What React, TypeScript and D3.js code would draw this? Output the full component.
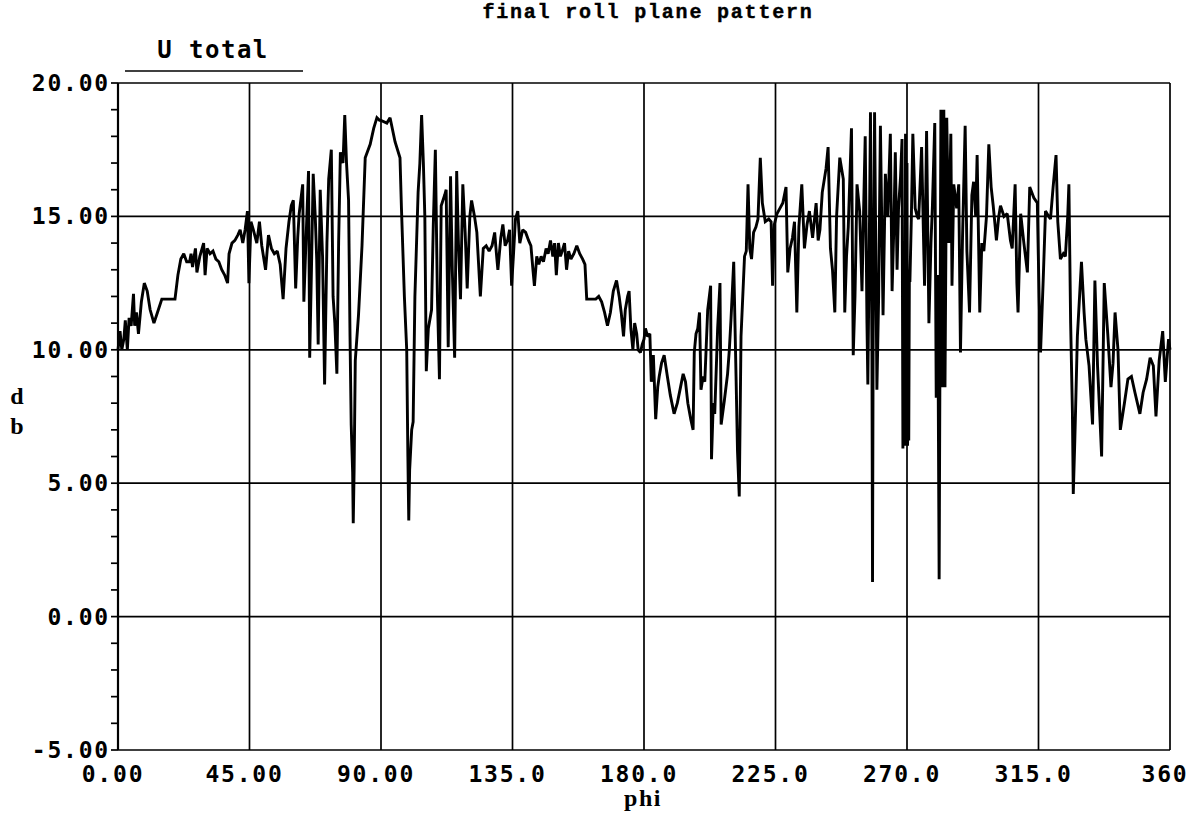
import React from "react";
import * as d3 from "d3";

// phi (deg), level (dB), in four segments
const seg0to90: [number, number][] = [
  [0, 10.0], [0.7, 10.7], [1.3, 10.0], [2.0, 10.4], [2.5, 11.1], [3.2, 10.0], [3.8, 11.2], [4.5, 10.9],
  [5.3, 12.1], [5.7, 10.9], [6.3, 11.4], [7.0, 10.6], [8.0, 11.8], [9.0, 12.5], [10.0, 12.2], [11.0, 11.5],
  [12.3, 11.0], [13.5, 11.4], [15.0, 11.9], [17.0, 11.9], [19.5, 11.9], [20.5, 12.8], [21.5, 13.4], [22.5, 13.6],
  [23.5, 13.3], [24.5, 13.3], [25.0, 13.6], [25.5, 13.1], [26.5, 13.8], [27.0, 12.9], [28.0, 13.5], [29.3, 14.0],
  [29.8, 12.8], [30.5, 13.8], [31.5, 13.6], [32.5, 13.7], [33.5, 13.4], [34.5, 13.3], [35.5, 13.0], [36.5, 12.8],
  [37.5, 12.5], [38.0, 13.6], [39.0, 14.0], [40.0, 14.1], [41.0, 14.3], [41.8, 14.5], [42.7, 14.0], [43.5, 14.5],
  [44.3, 15.2], [44.8, 12.5], [45.5, 14.8], [46.3, 14.5], [47.5, 14.0], [48.4, 14.8], [49.2, 13.9], [50.5, 13.0],
  [51.5, 14.3], [52.5, 13.8], [53.5, 13.6], [54.5, 13.7], [55.5, 13.2], [56.5, 11.9], [57.5, 13.8], [58.5, 14.8],
  [59.3, 15.4], [60.0, 15.6], [60.8, 12.3], [61.5, 14.2], [62.0, 15.1], [63.2, 16.2], [63.6, 11.8], [64.3, 14.0],
  [65.2, 16.7], [65.6, 9.7], [66.2, 13.0], [66.8, 16.6], [67.5, 15.0], [68.0, 13.4], [68.5, 10.2], [69.2, 16.0],
  [70.0, 13.5], [70.7, 8.7], [71.5, 14.0], [72.1, 16.4], [73.0, 17.5], [73.6, 12.0], [74.2, 11.0], [74.9, 9.1],
  [75.5, 14.0], [76.1, 17.4], [77.0, 17.0], [77.6, 18.8], [78.2, 17.0], [78.9, 15.6], [79.4, 10.5], [79.8, 7.2],
  [80.3, 5.4], [80.5, 3.5], [80.8, 5.5], [81.2, 9.6], [82.3, 11.3], [83.5, 13.9], [84.6, 17.2], [86.3, 17.7],
  [87.5, 18.3], [88.6, 18.7], [89.5, 18.6],
];

const seg90to180: [number, number][] = [
  [90.0, 18.6], [92.0, 18.5], [93.1, 18.7], [94.8, 17.8], [96.5, 17.2], [97.0, 15.3], [98.0, 12.0], [98.8, 10.0],
  [99.2, 6.0], [99.5, 3.6], [99.8, 5.5], [100.5, 7.0], [101.0, 7.3], [101.6, 12.0], [102.7, 15.9], [103.3, 17.0],
  [103.9, 18.8], [104.5, 17.0], [105.0, 15.0], [105.5, 9.2], [106.2, 10.8], [107.3, 11.5], [107.9, 14.7], [108.6, 17.5],
  [109.3, 12.0], [110.0, 8.9], [110.6, 15.4], [111.8, 15.8], [112.3, 16.0], [113.0, 10.1], [113.8, 16.5], [114.4, 13.0],
  [115.2, 9.7], [115.9, 16.7], [116.5, 14.0], [117.2, 11.9], [118.0, 16.2], [118.8, 14.4], [119.5, 12.3], [120.4, 15.0],
  [121.0, 15.6], [122.0, 15.0], [122.8, 14.4], [124.0, 12.0], [125.0, 13.8], [126.0, 13.9], [127.0, 13.7], [128.0, 13.9],
  [128.9, 14.4], [129.5, 13.6], [130.0, 13.0], [131.0, 14.2], [131.7, 14.7], [132.5, 13.9], [133.3, 14.1], [134.0, 14.5],
  [134.7, 12.4], [135.3, 13.5], [136.0, 14.9], [136.8, 15.2], [137.5, 14.0], [138.5, 14.5], [139.5, 14.4], [140.5, 14.1],
  [141.3, 13.9], [142.0, 13.0], [142.5, 12.4], [143.3, 13.5], [144.0, 13.2], [144.8, 13.5], [145.6, 13.3], [146.5, 13.8],
  [147.2, 13.6], [148.0, 14.1], [148.8, 13.5], [149.4, 14.0], [150.0, 12.8], [150.7, 14.0], [151.4, 13.5], [152.0, 13.7],
  [152.8, 14.0], [153.5, 13.0], [154.2, 13.7], [155.0, 13.4], [156.0, 13.6], [157.0, 13.9], [158.0, 13.6], [159.0, 13.4],
  [159.8, 13.2], [160.4, 11.9], [162.0, 11.9], [163.5, 11.9], [164.5, 12.0], [165.5, 11.8], [166.5, 11.4], [167.5, 10.9],
  [168.5, 11.4], [169.5, 12.2], [170.6, 12.6], [171.5, 12.0], [172.2, 11.4], [173.0, 10.5], [173.6, 11.5], [174.4, 12.0],
  [174.9, 12.2], [175.5, 10.8], [176.2, 10.0], [176.8, 11.0], [177.5, 10.6], [178.0, 10.0], [178.8, 9.9], [179.4, 10.2],
];

const seg180to270: [number, number][] = [
  [180.0, 10.4], [180.5, 10.8], [181.2, 10.5], [182.0, 10.6], [182.5, 8.8], [183.2, 9.8], [184.0, 7.4], [184.7, 8.6],
  [185.2, 9.0], [186.0, 9.5], [186.9, 9.8], [188.0, 9.0], [189.0, 8.3], [190.3, 7.6], [191.4, 8.0], [192.5, 8.6],
  [193.4, 9.1], [194.2, 8.8], [195.0, 8.0], [196.0, 7.4], [196.8, 7.0], [197.2, 9.9], [197.8, 10.6], [198.4, 10.8],
  [199.0, 11.4], [199.5, 8.5], [200.2, 9.0], [200.8, 8.8], [201.8, 11.5], [202.8, 12.4], [203.1, 5.9], [203.7, 8.0],
  [204.2, 7.6], [205.2, 10.8], [206.0, 12.5], [206.4, 7.2], [207.5, 8.1], [208.6, 9.1], [209.2, 10.0], [209.8, 11.2],
  [210.7, 13.3], [211.5, 9.0], [212.0, 6.2], [212.6, 4.5], [213.2, 10.5], [214.4, 13.5], [215.0, 13.7], [215.6, 16.2],
  [216.2, 13.8], [216.8, 13.4], [217.5, 14.4], [218.3, 14.6], [219.0, 14.9], [219.8, 17.2], [220.5, 15.5], [221.5, 14.8],
  [222.7, 14.9], [223.5, 14.8], [224.0, 12.4], [224.6, 14.7], [225.5, 15.1], [226.5, 15.3], [227.5, 15.5], [228.6, 16.1],
  [229.2, 12.9], [230.0, 13.8], [230.8, 14.2], [231.5, 14.8], [232.3, 11.4], [233.0, 14.6], [234.0, 16.2], [234.9, 13.8],
  [235.8, 14.7], [236.6, 15.2], [237.7, 14.2], [238.9, 15.5], [239.6, 14.1], [240.2, 14.5], [241.0, 15.9], [242.3, 16.8],
  [243.0, 17.6], [243.8, 13.8], [244.5, 13.0], [245.3, 11.4], [245.9, 15.0], [247.0, 17.2], [248.2, 16.4], [248.7, 11.4],
  [249.3, 13.5], [249.9, 14.6], [251.0, 18.3], [251.6, 9.8], [252.2, 12.0], [252.9, 16.2], [253.8, 15.2], [254.6, 12.2],
  [255.2, 15.5], [255.7, 18.0], [256.3, 11.0], [256.6, 8.7], [257.1, 14.0], [257.5, 18.9], [258.0, 10.0], [258.2, 1.3],
  [258.4, 10.0], [258.9, 18.9], [259.3, 14.0], [259.7, 8.5], [260.3, 12.0], [260.9, 18.4], [261.8, 11.3], [262.6, 16.6],
  [263.4, 15.0], [264.3, 18.1], [264.9, 12.2], [265.5, 14.6], [266.0, 17.4], [266.6, 13.0], [267.1, 15.3], [267.8, 16.5],
  [268.3, 17.9], [268.6, 6.3], [268.9, 13.0], [269.2, 6.4], [269.5, 18.1], [269.8, 6.5],
];

const seg270to360: [number, number][] = [
  [270.0, 17.0], [270.2, 6.4], [270.4, 13.0], [270.6, 6.6], [270.8, 12.6], [271.0, 12.6], [271.5, 15.0], [272.0, 18.1],
  [272.8, 15.3], [273.5, 15.0], [274.0, 14.9], [275.0, 17.6], [276.0, 12.4], [276.7, 18.2], [277.5, 11.0], [278.2, 14.0],
  [278.7, 15.4], [279.5, 18.5], [280.0, 8.2], [280.5, 12.8], [281.0, 1.4], [281.6, 19.0], [282.0, 8.6], [282.6, 19.0],
  [283.0, 8.6], [283.6, 18.7], [284.3, 14.0], [285.0, 18.1], [285.4, 12.4], [286.0, 16.2], [287.0, 15.3], [287.7, 16.2],
  [288.3, 9.9], [289.0, 14.2], [289.9, 18.4], [290.5, 13.7], [291.4, 11.4], [292.2, 15.8], [292.8, 16.3], [293.5, 15.0],
  [294.0, 17.3], [294.9, 11.4], [295.6, 14.0], [296.3, 13.7], [297.2, 15.0], [298.0, 17.7], [298.8, 16.1], [299.5, 15.4],
  [300.2, 14.6], [300.6, 14.1], [301.4, 15.0], [302.0, 15.4], [303.2, 15.0], [304.3, 15.1], [305.4, 14.1], [306.0, 13.8],
  [307.0, 16.2], [307.6, 12.5], [308.0, 11.4], [308.9, 15.1], [310.0, 14.0], [311.2, 12.9], [312.0, 16.1], [313.4, 15.7],
  [314.6, 15.5], [315.2, 12.0], [315.7, 9.9], [316.6, 12.6], [317.4, 15.2], [318.5, 15.0], [319.1, 14.9], [320.0, 16.1],
  [321.0, 17.3], [321.6, 14.8], [322.5, 13.4], [323.5, 13.6], [324.2, 13.5], [325.0, 15.0], [325.4, 16.2], [326.0, 11.0],
  [326.6, 7.7], [326.9, 4.6], [327.4, 6.5], [327.7, 7.8], [328.3, 10.5], [329.7, 13.3], [330.6, 11.4], [331.2, 10.4],
  [332.3, 9.4], [333.5, 7.2], [334.3, 12.6], [335.2, 9.4], [336.0, 7.5], [336.6, 6.0], [337.5, 12.5], [338.7, 10.6],
  [339.8, 8.6], [340.5, 9.5], [341.2, 11.4], [342.2, 10.0], [343.0, 7.0], [344.4, 8.0], [345.6, 8.9], [346.8, 9.0],
  [348.0, 8.4], [349.7, 7.6], [350.8, 8.4], [352.0, 8.9], [353.2, 9.7], [354.3, 9.4], [355.2, 7.5], [356.3, 9.6],
  [357.5, 10.7], [358.4, 8.8], [359.5, 10.4], [360.0, 10.0],
];

const xTicks = [0, 45, 90, 135, 180, 225, 270, 315, 360];
const xTickLabels = ["0.00", "45.00", "90.00", "135.0", "180.0", "225.0", "270.0", "315.0", "360"];
const yTicks = [-5, 0, 5, 10, 15, 20];
const yTickLabels = ["-5.00", "0.00", "5.00", "10.00", "15.00", "20.00"];
const yMinorTicks = d3.range(-5, 20.001, 1);

const title = "final roll plane pattern";
const legendLabel = "U total";
const xTitle = "phi";
const yTitle = ["d", "b"];

const W = 1188;
const H = 829;
const L = 118, R = 1170, T = 83, B = 750;

export default function App() {
  const data = [...seg0to90, ...seg90to180, ...seg180to270, ...seg270to360];
  const x = d3.scaleLinear().domain([0, 360]).range([L, R]);
  const y = d3.scaleLinear().domain([-5, 20]).range([B, T]);
  const line = d3.line<[number, number]>().x((d) => x(d[0])).y((d) => y(d[1]));
  const monoFont = "'DejaVu Sans Mono', monospace";
  const courier = "'Liberation Mono', monospace";
  const serif = "'Liberation Serif', serif";

  return (
    <svg width={W} height={H} style={{ position: "absolute", left: 0, top: 0, background: "#fff" }}>
      <rect x={0} y={0} width={W} height={H} fill="#fff" />
      {/* grid */}
      {yTicks.map((t) => (
        <line key={"gy" + t} x1={L} x2={R} y1={y(t)} y2={y(t)} stroke="#000" strokeWidth={1.7} />
      ))}
      {xTicks.map((t) => (
        <line key={"gx" + t} x1={x(t)} x2={x(t)} y1={T} y2={B} stroke="#000" strokeWidth={1.7} />
      ))}
      {/* minor ticks */}
      {yMinorTicks.map((t) => (
        <line key={"my" + t} x1={L - 7} x2={L} y1={y(t)} y2={y(t)} stroke="#000" strokeWidth={1.7} />
      ))}
      <line x1={L} x2={L} y1={T} y2={B} stroke="#000" strokeWidth={2.2} />
      {/* trace */}
      <path d={line(data) || ""} fill="none" stroke="#000" strokeWidth={2.9} strokeLinejoin="miter" strokeMiterlimit={2} />
      {/* y labels */}
      {yTicks.map((t, i) => (
        <text key={"yl" + t} x={L - 8} y={y(t) + 8} textAnchor="end" fontFamily={monoFont} fontWeight="bold"
          fontSize={23} letterSpacing={1.8} fill="#000">{yTickLabels[i]}</text>
      ))}
      {/* x labels */}
      {xTicks.map((t, i) => (
        <text key={"xl" + t} x={x(t) - 5} y={782} textAnchor="middle" fontFamily={monoFont} fontWeight="bold"
          fontSize={23} letterSpacing={1.8} fill="#000">{xTickLabels[i]}</text>
      ))}
      {/* titles */}
      <text x={648} y={18} textAnchor="middle" fontFamily={courier} fontWeight="bold" fontSize={20}
        letterSpacing={1.8} stroke="#000" strokeWidth={0.4} fill="#000">{title}</text>
      <text x={213} y={58} textAnchor="middle" fontFamily={monoFont} fontWeight="bold" fontSize={24}
        letterSpacing={1.5} fill="#000">{legendLabel}</text>
      <line x1={125} x2={303} y1={71} y2={71} stroke="#000" strokeWidth={1.7} />
      <text x={643} y={806} textAnchor="middle" fontFamily={serif} fontWeight="bold" fontSize={24}
        letterSpacing={1.5} fill="#000">{xTitle}</text>
      {yTitle.map((s, i) => (
        <text key={"yt" + i} x={17} y={404 + i * 30} textAnchor="middle" fontFamily={serif} fontWeight="bold"
          fontSize={24} fill="#000">{s}</text>
      ))}
    </svg>
  );
}
